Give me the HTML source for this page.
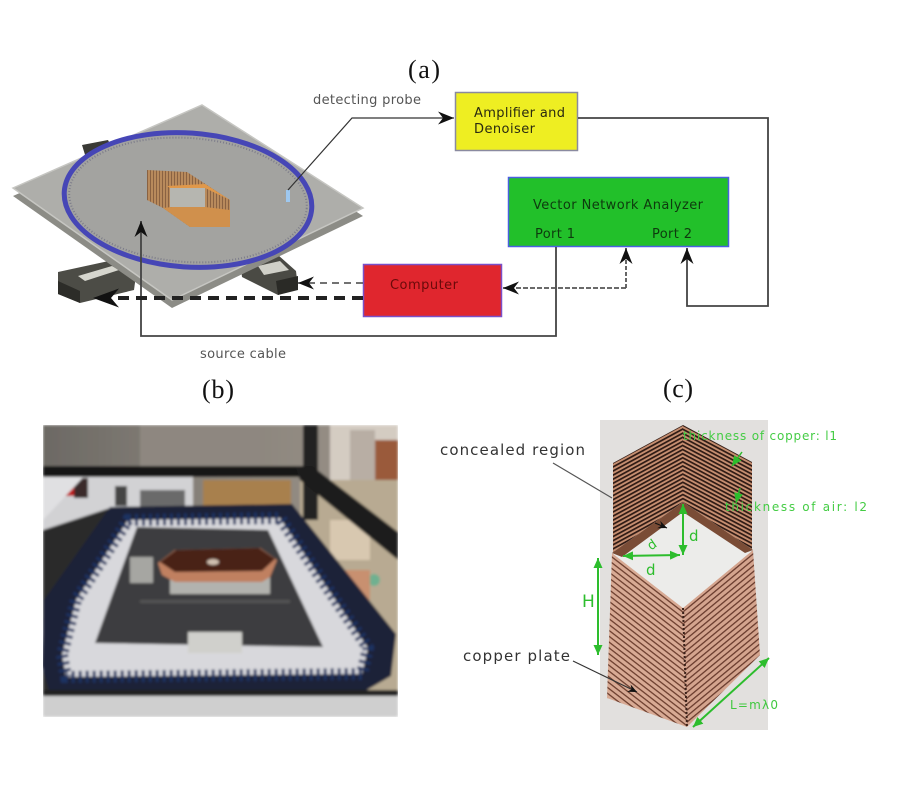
<!DOCTYPE html>
<html><head><meta charset="utf-8"><style>
html,body{margin:0;padding:0;background:#fff;}
svg{display:block;}
.s{font-family:"DejaVu Sans","Liberation Sans",sans-serif;}
.r{font-family:"Liberation Serif",serif;}
</style></head><body>
<svg width="901" height="800" viewBox="0 0 901 800" xmlns="http://www.w3.org/2000/svg">
<defs>
 <marker id="ah" markerUnits="userSpaceOnUse" markerWidth="17" markerHeight="13" refX="16" refY="6.5" orient="auto"><path d="M0,0 L16,6.5 L0,13 L5,6.5 z" fill="#111"/></marker>
 <marker id="ahb" markerUnits="userSpaceOnUse" markerWidth="27" markerHeight="19" refX="26" refY="9.5" orient="auto"><path d="M0,0 L26,9.5 L0,19 L8,9.5 z" fill="#111"/></marker>
 <marker id="ahs" markerUnits="userSpaceOnUse" markerWidth="10" markerHeight="8" refX="9" refY="4" orient="auto"><path d="M0,0 L9,4 L0,8 L3,4 z" fill="#111"/></marker>
 <marker id="ga" markerUnits="userSpaceOnUse" markerWidth="11" markerHeight="9" refX="10" refY="4.5" orient="auto-start-reverse"><path d="M0,0 L10,4.5 L0,9 z" fill="#2dbd2d"/></marker>
 <pattern id="stL" width="10" height="3.6" patternUnits="userSpaceOnUse" patternTransform="rotate(-28.5)"><rect width="10" height="3.6" fill="#c68e70"/><rect width="10" height="1.7" fill="#2e1a14"/></pattern>
 <pattern id="stR" width="10" height="3.6" patternUnits="userSpaceOnUse" patternTransform="rotate(28)"><rect width="10" height="3.6" fill="#c68e70"/><rect width="10" height="1.7" fill="#2e1a14"/></pattern>
 <pattern id="lwL" width="10" height="4.6" patternUnits="userSpaceOnUse" patternTransform="rotate(37.8)"><rect width="10" height="4.6" fill="#d8aa94"/><rect width="10" height="1.3" fill="#6e4030"/></pattern>
 <pattern id="lwR" width="10" height="4.6" patternUnits="userSpaceOnUse" patternTransform="rotate(-39.6)"><rect width="10" height="4.6" fill="#d4a48e"/><rect width="10" height="1.3" fill="#6a3c2e"/></pattern>
 <pattern id="cuA" width="3" height="10" patternUnits="userSpaceOnUse"><rect width="3" height="10" fill="#b88a5c"/><rect width="1" height="10" fill="#8a6242"/></pattern>
 <clipPath id="cb"><rect x="43" y="425" width="355" height="292"/></clipPath>
 <filter id="bl" x="-5%" y="-5%" width="110%" height="110%"><feGaussianBlur stdDeviation="1.3"/></filter>
 <linearGradient id="topg" x1="0" y1="0" x2="1" y2="0"><stop offset="0" stop-color="#6c6964"/><stop offset="0.5" stop-color="#8a847c"/><stop offset="1" stop-color="#9a9288"/></linearGradient>
</defs>

<!-- ============ (a) ============ -->
<text class="r" x="408" y="78" font-size="26" textLength="32" fill="#111">(a)</text>

<polygon points="82,145 108,140 114,152 86,158" fill="#3a3a36"/>
<polygon points="58,272 118,259 136,275 134,290 80,303 58,294" fill="#4c4c46"/>
<polygon points="78,276 112,266 119,270 85,281" fill="#d6d6ce"/>
<polygon points="58,281 80,291 80,303 58,294" fill="#2c2c28"/>
<polygon points="240,261 278,255 296,271 298,288 278,295 242,277" fill="#4a4a44"/>
<polygon points="258,266 280,261 289,270 264,275" fill="#d0d0c8"/>
<polygon points="276,281 298,276 298,290 278,295" fill="#2a2a26"/>

<polygon points="13,196 202,112 363,216 172,308" fill="#8c8c86"/>
<polygon points="13,188 202,105 363,208 172,300" fill="#aeaeaa" stroke="#c6c6c2" stroke-width="1.5"/>

<ellipse cx="188" cy="200" rx="124" ry="67" transform="rotate(4 188 200)" fill="#a3a3a0" stroke="#4646b6" stroke-width="5"/>
<ellipse cx="188" cy="200" rx="119" ry="62" transform="rotate(4 188 200)" fill="none" stroke="#7c7c8a" stroke-width="2" stroke-dasharray="1 2"/>

<polygon points="147,170 187,172 230,200 230,227 190,227 163,208 147,200" fill="url(#cuA)"/>
<polygon points="167,186 205,184 230,200 205,188 170,188" fill="#e0984a"/>
<polygon points="163,208 172,207 205,207 230,210 230,227 190,227" fill="#d0904c"/>
<rect x="170" y="188" width="35" height="19" fill="#b6b6b0"/>

<rect x="286" y="190" width="4" height="12" fill="#9ec8f0"/>

<rect x="455.5" y="92.5" width="122" height="58" fill="#eeee22" stroke="#8a8aa0" stroke-width="1.5"/>
<rect x="508.5" y="177.5" width="220" height="69" fill="#22c02a" stroke="#4a60e0" stroke-width="1.5"/>
<rect x="363.5" y="264.5" width="138" height="52" fill="#e0262e" stroke="#7a50c8" stroke-width="1.5"/>

<text class="s" x="474" y="117" font-size="13" textLength="91" fill="#2a2a10">Amplifier and</text>
<text class="s" x="474" y="133" font-size="13" textLength="61" fill="#2a2a10">Denoiser</text>
<text class="s" x="533" y="209" font-size="13" textLength="170" fill="#0e3a0e">Vector Network Analyzer</text>
<text class="s" x="535" y="238" font-size="13" textLength="40" fill="#0e3a0e">Port 1</text>
<text class="s" x="652" y="238" font-size="13" textLength="40" fill="#0e3a0e">Port 2</text>
<text class="s" x="390" y="289" font-size="13" textLength="68" fill="#6a0a0a">Computer</text>
<text class="s" x="313" y="104" font-size="13" textLength="108" fill="#555">detecting probe</text>
<text class="s" x="200" y="358" font-size="13" textLength="86" fill="#555">source cable</text>

<polyline points="288,190 352,118 454,118" fill="none" stroke="#333" stroke-width="1.2" marker-end="url(#ah)"/>
<polyline points="578,118 768,118 768,306 687,306 687,248" fill="none" stroke="#444" stroke-width="1.8" marker-end="url(#ah)"/>
<polyline points="556,247 556,336 141,336 141,221" fill="none" stroke="#444" stroke-width="1.8" marker-end="url(#ah)"/>
<line x1="626" y1="288" x2="626" y2="248" stroke="#555" stroke-width="1.8" stroke-dasharray="4 2" marker-end="url(#ah)"/>
<line x1="626" y1="288" x2="503" y2="288" stroke="#555" stroke-width="1.8" stroke-dasharray="5 2" marker-end="url(#ah)"/>
<line x1="363" y1="283" x2="298" y2="283" stroke="#444" stroke-width="1.5" stroke-dasharray="7 5" marker-end="url(#ah)"/>
<line x1="363" y1="298" x2="93" y2="298" stroke="#222" stroke-width="4" stroke-dasharray="11 7" marker-end="url(#ahb)"/>

<!-- ============ (b) ============ -->
<text class="r" x="202" y="398" font-size="26" textLength="32" fill="#111">(b)</text>
<g clip-path="url(#cb)">
 <g filter="url(#bl)">
  <rect x="43" y="425" width="355" height="292" fill="url(#topg)"/>
  <rect x="140" y="425" width="120" height="45" fill="#8e8780"/>
  <rect x="330" y="425" width="68" height="90" fill="#d4ccc2"/>
  <rect x="350" y="430" width="25" height="70" fill="#b8aea4"/>
  <rect x="375" y="440" width="23" height="80" fill="#9a5a3a"/>
  <rect x="43" y="477" width="150" height="70" fill="#d2d2d4"/>
  <rect x="57" y="478" width="17" height="18" fill="#c01818"/>
  <rect x="74" y="478" width="14" height="20" fill="#3a2a2a"/>
  <rect x="115" y="486" width="12" height="20" fill="#444"/>
  <rect x="140" y="490" width="45" height="18" fill="#6a6a6a"/>
  <rect x="203" y="480" width="88" height="32" fill="#a8804e"/>
  <rect x="300" y="480" width="98" height="237" fill="#b8aa92"/>
  <rect x="330" y="520" width="40" height="40" fill="#d8c8b0"/>
  <circle cx="374" cy="580" r="6" fill="#70b090"/>
  <rect x="340" y="570" width="30" height="30" fill="#c89070"/>
  <polygon points="43,530 110,508 60,690 43,690" fill="#2a2a2a"/>
  <polygon points="43,470 90,470 43,520" fill="#e0e0e2"/>
  <rect x="43" y="466" width="262" height="11" fill="#181818"/>
  <rect x="303" y="425" width="15" height="95" fill="#242220"/>
  <polygon points="295,466 312,466 398,532 398,560 300,480" fill="#1a1a1a"/>
  <polygon points="110,507 292,504 396,634 391,676 365,691 50,694 42,666 44,600" fill="#1a2438"/>
  <polygon points="128,520 280,518 368,648 362,674 66,677 62,655 76,600" fill="#d8d8dc"/>
  <polygon points="128,520 280,518 368,648 362,674 66,677 62,655 76,600" fill="none" stroke="#1e3060" stroke-width="12" stroke-dasharray="3 4"/>
  <polygon points="137,527 268,530 323,647 95,643" fill="#3e3e40"/>
  <rect x="43" y="694" width="355" height="23" fill="#cfcfcf"/>
  <rect x="43" y="690" width="355" height="6" fill="#202020"/>
  <rect x="170" y="575" width="100" height="19" fill="#b2b2ae"/>
  <rect x="130" y="557" width="23" height="26" fill="#a6a6a2"/>
  <polygon points="158,563 175,550 260,548 277,560 270,577 262,582 175,582 162,575" fill="#c08060"/>
  <polygon points="160,562 176,550 259,548 275,559 262,571 175,572" fill="#4a2418"/>
  <ellipse cx="213" cy="562" rx="6" ry="3" fill="#d0c0b0"/>
  <rect x="188" y="632" width="54" height="21" fill="#d0d0cc"/>
  <rect x="140" y="600" width="150" height="3" fill="#555"/>
 </g>
</g>

<!-- ============ (c) ============ -->
<text class="r" x="663" y="397" font-size="26" textLength="30" fill="#111">(c)</text>
<rect x="600" y="420" width="168" height="310" fill="#e2e0de"/>
<polygon points="613,463 683,425 683,502 613,553" fill="url(#stL)"/>
<polygon points="683,425 752,462 752,553 683,502" fill="url(#stR)"/>
<polygon points="612,553 683,608 687,727 607,698" fill="url(#lwL)"/>
<polygon points="683,608 753,550 760,655 687,727" fill="url(#lwR)"/>
<line x1="683" y1="608" x2="687" y2="727" stroke="#3a2018" stroke-width="2" stroke-dasharray="2 2"/>
<polygon points="683,502 753,550 683,608 612,553" fill="#ececea"/>
<polygon points="612,553 683,502 753,550 745,553 683,512 622,557" fill="#7a4c36"/>

<line x1="598" y1="558" x2="598" y2="655" stroke="#2dbd2d" stroke-width="2" marker-start="url(#ga)" marker-end="url(#ga)"/>
<text class="s" x="582" y="607" font-size="17" fill="#2dbd2d">H</text>
<line x1="769" y1="658" x2="693" y2="727" stroke="#2dbd2d" stroke-width="2" marker-start="url(#ga)" marker-end="url(#ga)"/>
<text class="s" x="730" y="709" font-size="12" textLength="48" fill="#40c840">L=mλ0</text>
<line x1="683" y1="504" x2="683" y2="555" stroke="#2dbd2d" stroke-width="2" marker-start="url(#ga)" marker-end="url(#ga)"/>
<text class="s" x="689" y="541" font-size="15" fill="#2dbd2d">d</text>
<line x1="623" y1="556" x2="680" y2="555" stroke="#2dbd2d" stroke-width="2" marker-start="url(#ga)" marker-end="url(#ga)"/>
<text class="s" x="646" y="575" font-size="15" fill="#2dbd2d">d</text>
<text class="s" x="648" y="549" font-size="13" fill="#2dbd2d" transform="rotate(-35 652 545)">d</text>
<line x1="742" y1="452" x2="732" y2="466" stroke="#2dbd2d" stroke-width="1.5" marker-end="url(#ga)"/>
<line x1="740" y1="488" x2="736" y2="503" stroke="#2dbd2d" stroke-width="1.5" marker-end="url(#ga)"/>
<text class="s" x="683" y="440" font-size="12" textLength="154" fill="#44cc44">thickness of copper: l1</text>
<text class="s" x="725" y="511" font-size="12" textLength="142" fill="#44cc44">thickness of air: l2</text>

<text class="s" x="440" y="455" font-size="15" textLength="145" fill="#333">concealed region</text>
<line x1="553" y1="463" x2="612" y2="498" stroke="#555" stroke-width="1.2"/>
<line x1="655" y1="523" x2="667" y2="528" stroke="#111" stroke-width="1.2" marker-end="url(#ahs)"/>
<text class="s" x="463" y="661" font-size="15" textLength="107" fill="#333">copper plate</text>
<line x1="573" y1="661" x2="637" y2="692" stroke="#333" stroke-width="1.2" marker-end="url(#ahs)"/>
</svg>
</body></html>
